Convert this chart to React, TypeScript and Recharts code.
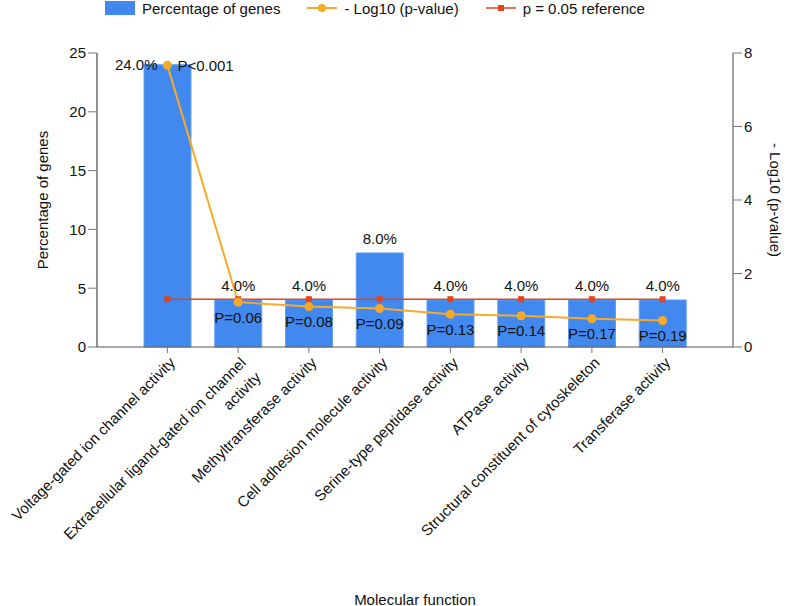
import React from "react";
import {
  ComposedChart,
  Bar,
  Line,
  XAxis,
  YAxis,
  Legend,
  LabelList,
} from "recharts";

const CATEGORIES = [
  "Voltage-gated ion channel activity",
  "Extracellular ligand-gated ion channel|activity",
  "Methyltransferase activity",
  "Cell adhesion molecule activity",
  "Serine-type peptidase activity",
  "ATPase activity",
  "Structural constituent of cytoskeleton",
  "Transferase activity",
];
const GENE_PCT = [24, 4, 4, 8, 4, 4, 4, 4];
const NEG_LOG_P = [7.67, 1.22, 1.1, 1.05, 0.89, 0.85, 0.77, 0.72];
const P_LABELS = ["P<0.001", "P=0.06", "P=0.08", "P=0.09", "P=0.13", "P=0.14", "P=0.17", "P=0.19"];
const CUTOFF = [1.3, 1.3, 1.3, 1.3, 1.3, 1.3, 1.3, 1.3];
const LEFT_TICKS = [0, 5, 10, 15, 20, 25];
const RIGHT_TICKS = [0, 2, 4, 6, 8];

const BAR_COLOR = "#4289ef";
const LINE_COLOR = "#f7a928";
const REF_COLOR = "#e4441c";
const TEXT = "#111";
const FONT = "'Liberation Sans', Arial, Helvetica, sans-serif";

// note: a data field named "ref" breaks Bar (spread into props), so "cutoff"
const data = CATEGORIES.map((name, i) => ({
  name,
  pct: GENE_PCT[i],
  logp: NEG_LOG_P[i],
  pLabel: P_LABELS[i],
  cutoff: CUTOFF[i],
}));

function renderXTick(p: any) {
  const lines = String(p.payload.value).split("|");
  const px = p.x + 5;
  const py = p.y + 5;
  return (
    <text
      key={`t-${p.index}`}
      x={px}
      y={py}
      transform={`rotate(-45, ${px}, ${py})`}
      textAnchor="end"
      fontSize={15}
      fill={TEXT}
      fontFamily={FONT}
    >
      {lines.map((l, i) => (
        <tspan key={i} x={px} dy={i === 0 ? "0.35em" : 21}>
          {l}
        </tspan>
      ))}
    </text>
  );
}

function renderSquare(p: any) {
  if (p.cx == null || p.cy == null) return <g key={`s-${p.index}`} />;
  return <rect key={`s-${p.index}`} x={p.cx - 3} y={p.cy - 3} width={6} height={6} fill={REF_COLOR} />;
}

function renderBarLabel(p: any) {
  const cx = p.x + p.width / 2;
  const txt = `${Number(p.value).toFixed(1)}%`;
  const first = p.index === 0;
  return (
    <text
      key={`b-${p.index}`}
      x={first ? cx - 10 : cx}
      y={first ? p.y : p.y - 14}
      textAnchor={first ? "end" : "middle"}
      dominantBaseline="central"
      fontSize={15}
      fill={TEXT}
      fontFamily={FONT}
    >
      {txt}
    </text>
  );
}

function renderPLabel(p: any) {
  const first = p.index === 0;
  return (
    <text
      key={`p-${p.index}`}
      x={first ? p.x + 10 : p.x}
      y={first ? p.y : p.y + 15}
      textAnchor={first ? "start" : "middle"}
      dominantBaseline="central"
      fontSize={15}
      fill={TEXT}
      fontFamily={FONT}
    >
      {p.value}
    </text>
  );
}

function renderLegend() {
  const item: React.CSSProperties = { display: "flex", alignItems: "center", marginRight: 27 };
  const label: React.CSSProperties = { marginLeft: 7, fontSize: 15, color: TEXT, whiteSpace: "nowrap" };
  return (
    <div style={{ display: "flex", alignItems: "center", paddingLeft: 105, height: 16, fontFamily: FONT }}>
      <div style={item}>
        <span style={{ width: 30, height: 14, background: BAR_COLOR, display: "inline-block" }} />
        <span style={label}>Percentage of genes</span>
      </div>
      <div style={item}>
        <svg width={30} height={14}>
          <line x1={0} y1={7} x2={30} y2={7} stroke={LINE_COLOR} strokeWidth={2} />
          <circle cx={15} cy={7} r={4} fill={LINE_COLOR} />
        </svg>
        <span style={label}>- Log10 (p-value)</span>
      </div>
      <div style={item}>
        <svg width={30} height={14}>
          <line x1={0} y1={7} x2={30} y2={7} stroke={REF_COLOR} strokeWidth={1.5} />
          <rect x={12} y={4} width={6} height={6} fill={REF_COLOR} />
        </svg>
        <span style={label}>p = 0.05 reference</span>
      </div>
    </div>
  );
}

function axisTitle(text: string, angle: number, dx: number) {
  return (p: any) => {
    const vb = p.viewBox;
    const cx = vb.x + dx;
    const cy = vb.y + vb.height / 2;
    return (
      <text
        x={cx}
        y={cy}
        transform={`rotate(${angle}, ${cx}, ${cy})`}
        textAnchor="middle"
        dominantBaseline="central"
        fontSize={15}
        fill={TEXT}
        fontFamily={FONT}
      >
        {text}
      </text>
    );
  };
}

function xTitle(p: any) {
  const vb = p.viewBox;
  return (
    <text
      x={vb.x + vb.width / 2}
      y={vb.y + vb.height - 7}
      textAnchor="middle"
      dominantBaseline="central"
      fontSize={15}
      fill={TEXT}
      fontFamily={FONT}
    >
      Molecular function
    </text>
  );
}

export default function App() {
  return (
    <div style={{ position: "absolute", left: 0, top: 0, fontFamily: FONT }}>
      <ComposedChart
        width={787}
        height={606}
        data={data}
        margin={{ top: 53, right: 0, bottom: 0, left: 0 }}
      >
        <XAxis
          dataKey="name"
          interval={0}
          height={259}
          padding={{ left: 35, right: 35 }}
          tick={renderXTick}
          tickSize={6}
          axisLine={{ stroke: "#555" }}
          tickLine={{ stroke: "#777" }}
          label={{ content: xTitle }}
        />
        <YAxis
          yAxisId="left"
          width={97}
          domain={[0, 25]}
          ticks={LEFT_TICKS}
          tickSize={9}
          tick={{ fontSize: 15, fill: TEXT, fontFamily: FONT }}
          axisLine={{ stroke: "#222" }}
          tickLine={{ stroke: "#777" }}
          label={{ content: axisTitle("Percentage of genes", -90, 42) }}
        />
        <YAxis
          yAxisId="right"
          orientation="right"
          width={54}
          domain={[0, 8]}
          ticks={RIGHT_TICKS}
          tickSize={9}
          tick={{ fontSize: 15, fill: TEXT, fontFamily: FONT }}
          axisLine={{ stroke: "#444" }}
          tickLine={{ stroke: "#777" }}
          label={{ content: axisTitle("- Log10 (p-value)", 90, 42) }}
        />
        <Legend
          verticalAlign="middle"
          align="center"
          content={renderLegend}
          wrapperStyle={{ top: 0, left: 0, width: 787, height: 16 }}
        />
        <Bar
          yAxisId="left"
          dataKey="pct"
          name="Percentage of genes"
          fill={BAR_COLOR}
          stroke="#64a0f2"
          strokeWidth={1}
          barSize={47}
          isAnimationActive={false}
        >
          <LabelList dataKey="pct" content={renderBarLabel} />
        </Bar>
        <Line
          yAxisId="right"
          dataKey="cutoff"
          name="p = 0.05 reference"
          stroke={REF_COLOR}
          strokeWidth={1.5}
          dot={renderSquare}
          activeDot={false}
          isAnimationActive={false}
        />
        <Line
          yAxisId="right"
          dataKey="logp"
          name="- Log10 (p-value)"
          stroke={LINE_COLOR}
          strokeWidth={2}
          dot={{ r: 4.5, fill: LINE_COLOR, stroke: LINE_COLOR, strokeWidth: 0 }}
          activeDot={false}
          isAnimationActive={false}
        >
          <LabelList dataKey="pLabel" content={renderPLabel} />
        </Line>
      </ComposedChart>
    </div>
  );
}
